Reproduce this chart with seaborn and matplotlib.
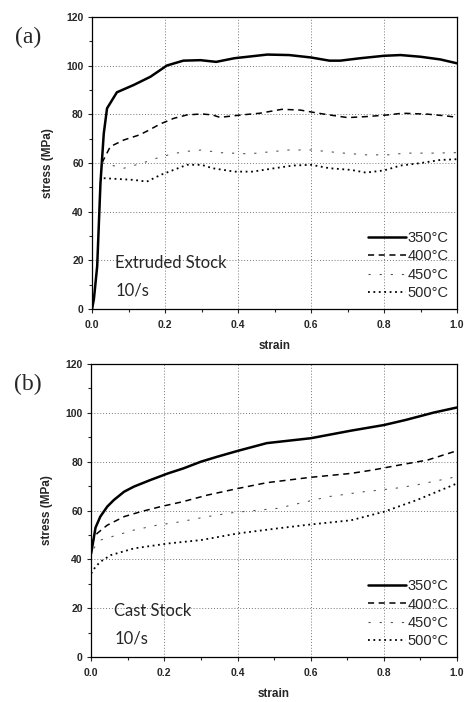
import matplotlib
matplotlib.use("Agg")
import matplotlib.pyplot as plt
import seaborn as sns
from matplotlib.ticker import MultipleLocator

# (a) extruded stock, 10/s
ext_350_x = [0.0, 0.005, 0.014, 0.023, 0.032, 0.041, 0.068, 0.114, 0.16, 0.205, 0.25, 0.297,
             0.34, 0.39, 0.48, 0.54, 0.6, 0.65, 0.68, 0.735, 0.8, 0.845, 0.9, 0.954, 1.0]
ext_350_y = [0, 4, 17.5, 51.7, 72, 82.4, 89, 92, 95.4, 100, 102, 102.2,
             101.5, 103, 104.5, 104.3, 103.3, 102, 102, 103, 104, 104.3, 103.6, 102.5, 100.9]
ext_400_x = [0.027, 0.05, 0.087, 0.13, 0.15, 0.187, 0.224, 0.26, 0.3, 0.33, 0.35, 0.41, 0.46,
             0.52, 0.57, 0.62, 0.65, 0.7, 0.75, 0.81, 0.85, 0.92, 0.97, 1.0]
ext_400_y = [60, 66.7, 69.4, 71.5, 73, 76, 78.3, 79.7, 80.1, 79.7, 78.7, 79.7, 80.4,
             82, 81.7, 80.4, 79.7, 78.6, 79, 79.7, 80.4, 80, 79.3, 78.7]
ext_450_x = [0.027, 0.087, 0.14, 0.19, 0.25, 0.3, 0.35, 0.43, 0.54, 0.6, 0.69, 0.75, 0.81,
             0.86, 0.93, 1.0]
ext_450_y = [60, 57.8, 60, 62.6, 64.6, 65.3, 64.2, 63.7, 65.3, 65.3, 64, 63.3, 63.3,
             64, 64, 64.2]
ext_500_x = [0.032, 0.068, 0.114, 0.15, 0.187, 0.22, 0.26, 0.3, 0.33, 0.39, 0.44, 0.5, 0.55,
             0.6, 0.65, 0.71, 0.75, 0.8, 0.845, 0.9, 0.954, 1.0]
ext_500_y = [53.7, 53.4, 53, 52.3, 55, 56.9, 59.2, 59.2, 57.8, 56.4, 56.4, 57.8, 58.9,
             59.2, 57.8, 57.1, 56, 56.9, 58.9, 59.9, 61.2, 61.5]

# (b) cast stock, 10/s
cast_350_x = [0.0, 0.012, 0.025, 0.044, 0.062, 0.09, 0.117, 0.162, 0.21, 0.253, 0.3, 0.344,
              0.4, 0.48, 0.6, 0.71, 0.8, 0.86, 0.936, 1.0]
cast_350_y = [42.4, 53, 57.5, 61.6, 64.3, 67.7, 69.8, 72.5, 75.2, 77.3, 80, 82,
              84.4, 87.6, 89.6, 92.7, 95, 97.1, 100.1, 102.2]
cast_400_x = [0.0, 0.016, 0.044, 0.09, 0.135, 0.19, 0.25, 0.317, 0.4, 0.48, 0.6, 0.71,
              0.77, 0.845, 0.92, 1.0]
cast_400_y = [46.5, 50.6, 54, 57.5, 59.5, 61.6, 63.6, 66.3, 69, 71.4, 73.6, 75.2,
              76.6, 78.7, 80.7, 84.5]
cast_450_x = [0.007, 0.025, 0.07, 0.117, 0.18, 0.244, 0.317, 0.39, 0.51, 0.57, 0.65, 0.745,
              0.827, 0.89, 1.0]
cast_450_y = [44.5, 47.9, 49.9, 52, 54, 55.4, 57.5, 59.2, 60.9, 63, 65.7, 67.7,
              69, 70.5, 73.9]
cast_500_x = [0.0, 0.012, 0.025, 0.053, 0.117, 0.21, 0.3, 0.4, 0.51, 0.6, 0.71, 0.8,
              0.89, 1.0]
cast_500_y = [34.2, 37, 39, 41.7, 44.5, 46.5, 47.9, 50.6, 52.7, 54.3, 56, 59.5,
              64.3, 71.1]

labels = ["350°C", "400°C", "450°C", "500°C"]
styles = [dict(ls="-", lw=1.8), dict(ls=(0, (4, 3)), lw=1.1),
          dict(ls=(0, (2, 8)), lw=0.8, color="#555555"), dict(ls=(0, (1, 2)), lw=1.3)]

sns.set_style("white")
plt.rcParams["font.family"] = ["Liberation Sans", "DejaVu Sans"]

fig = plt.figure(figsize=(4.65, 7.02), dpi=100)
ax_a = fig.add_axes([0.198, 0.56, 0.785, 0.416])
ax_b = fig.add_axes([0.196, 0.064, 0.787, 0.4175])

panels = [
    (ax_a, "(a)", "Extruded Stock",
     [(ext_350_x, ext_350_y), (ext_400_x, ext_400_y), (ext_450_x, ext_450_y), (ext_500_x, ext_500_y)]),
    (ax_b, "(b)", "Cast Stock",
     [(cast_350_x, cast_350_y), (cast_400_x, cast_400_y), (cast_450_x, cast_450_y), (cast_500_x, cast_500_y)]),
]

for ax, tag, name, series in panels:
    for (xs, ys), lab, st in zip(series, labels, styles):
        kw = dict(st)
        col = kw.pop("color", "black")
        sns.lineplot(x=xs, y=ys, ax=ax, color=col, label=lab, linestyle=kw["ls"], linewidth=kw["lw"])
    ax.set_xlim(0, 1.0)
    ax.set_ylim(0, 120)
    ax.xaxis.set_major_locator(MultipleLocator(0.2))
    ax.xaxis.set_minor_locator(MultipleLocator(0.1))
    ax.yaxis.set_major_locator(MultipleLocator(20))
    ax.yaxis.set_minor_locator(MultipleLocator(10))
    ax.xaxis.set_major_formatter(matplotlib.ticker.FormatStrFormatter("%.1f"))
    ax.grid(True, which="major", color="#777777", linestyle=(0, (1, 2)), linewidth=0.7)
    ax.tick_params(which="both", direction="out", length=3, width=0.8, labelsize=7.5,
                   bottom=True, left=True, pad=3)
    ax.tick_params(axis="x", pad=5)
    ax.tick_params(which="minor", length=2)
    for lbl in ax.get_xticklabels() + ax.get_yticklabels():
        lbl.set_fontweight("bold")
    for s in ax.spines.values():
        s.set_color("black")
        s.set_linewidth(0.9)
    ax.set_xlabel("strain", fontsize=8.5, fontweight="bold", labelpad=7)
    ax.set_ylabel("stress (MPa)", fontsize=8.5, fontweight="bold", labelpad=9)
    ax.text(0.062, 19, name, fontsize=12, family=["Lato", "DejaVu Sans"], va="center")
    ax.text(0.065, 7.5, "10/s", fontsize=12, family=["Lato", "DejaVu Sans"], va="center")
    ax.text(-0.21, 0.93, tag, transform=ax.transAxes, fontsize=17,
            family=["Liberation Serif", "DejaVu Serif"], va="center")
    leg = ax.legend(loc="lower right", frameon=False, fontsize=10.5, handlelength=2.6,
                    handletextpad=0.1, labelspacing=0.3, borderaxespad=0.2)

fig.savefig("out.png", dpi=100)
